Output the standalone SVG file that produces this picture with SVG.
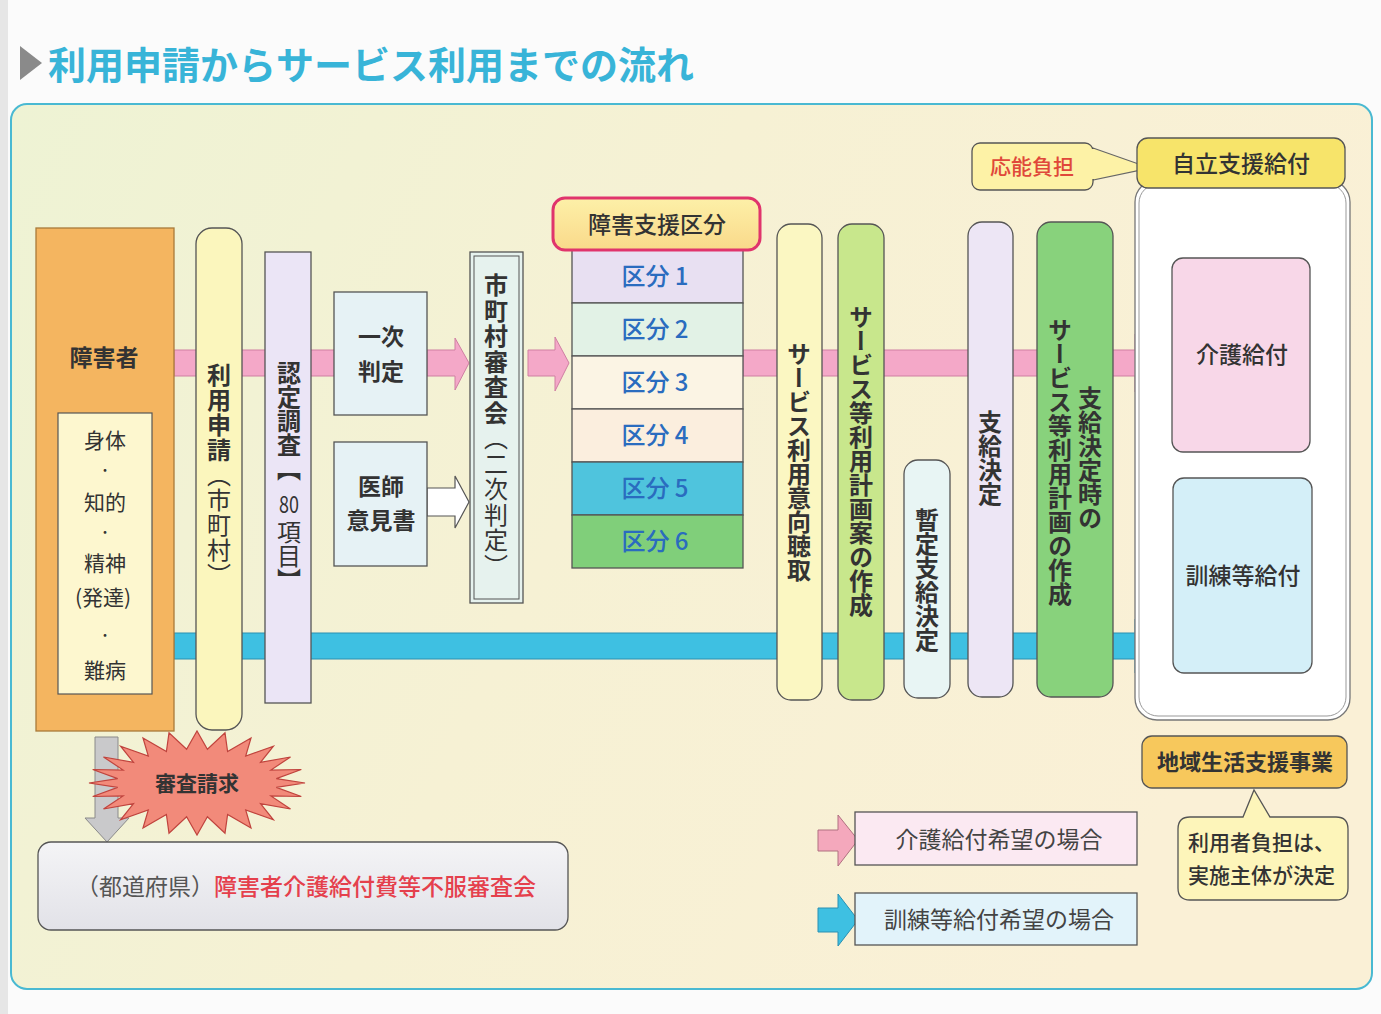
<svg xmlns="http://www.w3.org/2000/svg" width="1381" height="1014" viewBox="0 0 1381 1014">
<defs>
<linearGradient id="panel" x1="0" y1="0" x2="1" y2="0.3">
<stop offset="0" stop-color="#eef3d4"/>
<stop offset="0.5" stop-color="#f6f1d4"/>
<stop offset="1" stop-color="#faf0d6"/>
</linearGradient>
<linearGradient id="hdr" x1="0" y1="0" x2="0" y2="1">
<stop offset="0" stop-color="#fdf0a8"/>
<stop offset="1" stop-color="#f9d98a"/>
</linearGradient>
<linearGradient id="gray" x1="0" y1="0" x2="0" y2="1">
<stop offset="0" stop-color="#f4f4f6"/>
<stop offset="1" stop-color="#e2e2e8"/>
</linearGradient>
</defs>
<style>
text{font-family:"Noto Sans CJK JP","Noto Sans",sans-serif;fill:#333;}
.b{font-weight:bold;}
.m{text-anchor:middle;}
.v{writing-mode:vertical-rl;text-orientation:mixed;}
.box{stroke:#555;stroke-width:1.3;}
.pink{fill:#f4a8c8;stroke:#cf7fa2;stroke-width:1;}
.cyan{fill:#3ec0e2;stroke:#2a90b2;stroke-width:1;}
.blue{fill:#2a6cbf;font-size:24px;text-anchor:middle;font-weight:500;}
.dot{font-size:13px;text-anchor:middle;}
</style>
<rect width="1381" height="1014" fill="#fbfbfb"/>
<rect x="0" y="0" width="8" height="1014" fill="#e6e6e6"/>
<g id="title">
<polygon points="20,46 42,63 20,80" fill="#8a8a8a"/>
<text x="48" y="79" font-size="38" class="b" style="fill:#38b4d8">利用申請からサービス利用までの流れ</text>
</g>
<rect x="11" y="104" width="1361" height="885" rx="16" fill="url(#panel)" stroke="#49b9d2" stroke-width="2"/>

<g id="connectors">
<rect x="174" y="350" width="162" height="26" class="pink"/>
<rect x="174" y="633" width="962" height="26" class="cyan"/>
<polygon points="1135,633 1135,619 1172,646 1135,673 1135,659" class="cyan"/>
<polygon points="427,350 455,350 455,338 469,363 455,390 455,376 427,376" class="pink"/>
<polygon points="427,488 455,488 455,476 469,502 455,528 455,516 427,516" fill="#fff" stroke="#555" stroke-width="1.2"/>
<polygon points="528,350 555,350 555,337 569,363 555,391 555,376 528,376" class="pink"/>
<polygon points="743,350 1135,350 1135,334 1172,363 1135,392 1135,376 743,376" class="pink"/>
<polygon points="95,737 118,737 118,818 129,818 107,842 85,818 95,818" fill="#c9c9cb" stroke="#8a8a8a" stroke-width="1"/>
<polygon points="1093,148 1150,168 1093,180" fill="#fdf2a6" stroke="#666" stroke-width="1.2"/>
</g>

<g id="shogaisha">
<rect x="36" y="228" width="138" height="503" fill="#f4b560" stroke="#a97a3a" stroke-width="1.3"/>
<text x="104" y="366" font-size="23" class="b m">障害者</text>
<rect x="58" y="413" width="94" height="281" fill="#fdf7cf" stroke="#555" stroke-width="1.2"/>
<g font-size="21">
<text x="105" y="448" class="m">身体</text>
<text x="105" y="475" class="dot">・</text>
<text x="105" y="510" class="m">知的</text>
<text x="105" y="537" class="dot">・</text>
<text x="105" y="571" class="m">精神</text>
<text x="103" y="605" class="m">(発達)</text>
<text x="105" y="640" class="dot">・</text>
<text x="105" y="678" class="m">難病</text>
</g>
</g>

<g id="riyo-shinsei">
<rect x="196" y="228" width="46" height="502" rx="16" fill="#fbf6bd" class="box"/>
<text x="219" y="475" font-size="24" class="v m" letter-spacing="1"><tspan class="b">利用申請</tspan>（市町村）</text>
</g>

<g id="nintei">
<rect x="265" y="252" width="46" height="451" fill="#ebe5f6" class="box"/>
<text x="289" y="361" font-size="24" class="v b">認定調査【</text>
<text x="289" y="513" font-size="23" class="m" transform="translate(289,0) scale(0.78,1) translate(-289,0)">80</text>
<text x="289" y="520" font-size="24" class="v">項目】</text>
</g>

<g id="ichiji">
<rect x="334" y="292" width="93" height="123" fill="#e6f2f5" class="box"/>
<text x="381" y="345" font-size="23" class="b m">一次</text>
<text x="381" y="380" font-size="23" class="b m">判定</text>
</g>

<g id="ishi">
<rect x="334" y="442" width="93" height="124" fill="#e6f2f5" class="box"/>
<text x="381" y="495" font-size="23" class="b m">医師</text>
<text x="381" y="529" font-size="23" class="b m">意見書</text>
</g>

<g id="shinsakai">
<rect x="470" y="252" width="53" height="351" fill="#e6f2ee" class="box"/>
<rect x="474" y="256" width="45" height="343" fill="none" stroke="#555" stroke-width="1"/>
<text x="496" y="426" font-size="24" class="v m" letter-spacing="1.5"><tspan class="b">市町村審査会</tspan>（二次判定）</text>
</g>

<g id="kubun">
<rect x="572" y="250" width="171" height="53" fill="#e8e0f2" class="box"/>
<rect x="572" y="303" width="171" height="53" fill="#e2f2e6" class="box"/>
<rect x="572" y="356" width="171" height="53" fill="#fbf4e4" class="box"/>
<rect x="572" y="409" width="171" height="53" fill="#fbeede" class="box"/>
<rect x="572" y="462" width="171" height="53" fill="#4fc4dd" class="box"/>
<rect x="572" y="515" width="171" height="53" fill="#80cf7a" class="box"/>
<text x="655" y="285" class="blue">区分 1</text>
<text x="655" y="338" class="blue">区分 2</text>
<text x="655" y="391" class="blue">区分 3</text>
<text x="655" y="444" class="blue">区分 4</text>
<text x="655" y="497" class="blue">区分 5</text>
<text x="655" y="550" class="blue">区分 6</text>
<rect x="553" y="198" width="207" height="52" rx="12" fill="url(#hdr)" stroke="#e0346c" stroke-width="3"/>
<text x="657" y="233" font-size="23" class="m" style="font-weight:500">障害支援区分</text>
</g>

<g id="ikou">
<rect x="777" y="224" width="45" height="476" rx="14" fill="#fbf7c2" class="box"/>
<text x="799" y="462" font-size="24" class="v m b">サービス利用意向聴取</text>
</g>

<g id="keikakuan">
<rect x="838" y="224" width="46" height="476" rx="14" fill="#c8e78c" class="box"/>
<text x="861" y="461" font-size="24" class="v m b">サービス等利用計画案の作成</text>
</g>

<g id="zantei">
<rect x="904" y="460" width="46" height="238" rx="14" fill="#e8f5f4" class="box"/>
<text x="927" y="580" font-size="24" class="v m b">暫定支給決定</text>
</g>

<g id="shikyu">
<rect x="968" y="222" width="45" height="475" rx="14" fill="#ede6f5" class="box"/>
<text x="990" y="458" font-size="24" class="v m b">支給決定</text>
</g>

<g id="keikaku">
<rect x="1037" y="222" width="76" height="475" rx="14" fill="#88d27c" class="box"/>
<text x="1090" y="458" font-size="24" class="v m b">支給決定時の</text>
<text x="1060" y="462" font-size="24" class="v m b">サービス等利用計画の作成</text>
</g>

<g id="ouno">
<rect x="972" y="143" width="121" height="47" rx="8" fill="#fdf2a6" class="box"/>
<line x1="1093" y1="149" x2="1093" y2="179" stroke="#fdf2a6" stroke-width="2"/>
<text x="1032" y="174" font-size="21" class="m" style="fill:#e0483a;font-weight:500">応能負担</text>
</g>

<g id="jiritsu">
<rect x="1135" y="180" width="215" height="540" rx="22" fill="#ffffff" stroke="#777" stroke-width="1.3"/>
<rect x="1139" y="184" width="207" height="532" rx="19" fill="none" stroke="#999" stroke-width="1"/>
<rect x="1137" y="138" width="208" height="50" rx="11" fill="#f7e46a" class="box"/>
<text x="1241" y="172" font-size="23" class="m" style="font-weight:500">自立支援給付</text>
</g>

<g id="kaigo">
<rect x="1172" y="258" width="138" height="194" rx="11" fill="#f8d7e8" class="box"/>
<text x="1242" y="363" font-size="23" class="m" style="font-weight:500">介護給付</text>
</g>

<g id="kunren">
<rect x="1173" y="478" width="139" height="195" rx="11" fill="#d4eff8" class="box"/>
<text x="1243" y="584" font-size="23" class="m" style="font-weight:500">訓練等給付</text>
</g>

<g id="chiiki">
<rect x="1142" y="736" width="205" height="52" rx="10" fill="#f7c85c" class="box"/>
<text x="1245" y="770" font-size="22" class="m b">地域生活支援事業</text>
</g>

<g id="futan">
<path d="M1190,817 L1243,817 L1254,790 L1270,817 L1336,817 Q1348,817 1348,829 L1348,888 Q1348,900 1336,900 L1190,900 Q1178,900 1178,888 L1178,829 Q1178,817 1190,817 Z" fill="#fdf5ba" stroke="#555" stroke-width="1.3"/>
<text x="1188" y="850" font-size="21" style="font-weight:500">利用者負担は、</text>
<text x="1188" y="883" font-size="21" style="font-weight:500">実施主体が決定</text>
</g>

<g id="legend-kaigo">
<polygon points="818,830 838,830 838,815 858,840 838,866 838,851 818,851" fill="#f4a8bc" stroke="#b07080" stroke-width="1"/>
<rect x="855" y="812" width="282" height="53" fill="#fbe9f2" class="box"/>
<text x="999" y="848" font-size="23" class="m" style="fill:#444">介護給付希望の場合</text>
</g>

<g id="legend-kunren">
<polygon points="818,908 838,908 838,894 858,920 838,946 838,932 818,932" class="cyan"/>
<rect x="855" y="893" width="282" height="52" fill="#e2f3fa" class="box"/>
<text x="999" y="928" font-size="23" class="m" style="fill:#444">訓練等給付希望の場合</text>
</g>

<g id="shinsaseikyu">
<polygon points="305,783 276.3,787.4 301.3,796.5 270.9,796 290.5,809 260.5,803.7 273.4,819.8 245.7,810 251,828 227.6,814.4 225,833.2 207.4,816.7 197,835 186.6,816.7 169,833.2 166.4,814.4 143,828 148.3,810 120.6,819.8 133.5,803.7 103.5,809 123.1,796 92.7,796.5 117.7,787.4 89,783 117.7,778.6 92.7,769.5 123.1,770 103.5,757 133.5,762.3 120.6,746.2 148.3,756 143,738 166.4,751.6 169,732.8 186.6,749.3 197,731 207.4,749.3 225,732.8 227.6,751.6 251,738 245.7,756 273.4,746.2 260.5,762.3 290.5,757 270.9,770 301.3,769.5 276.3,778.6" fill="#f28a7a" stroke="#c0443e" stroke-width="1.2"/>
<text x="197" y="791" font-size="21" class="m b">審査請求</text>
</g>

<g id="fufuku">
<rect x="38" y="842" width="530" height="88" rx="13" fill="url(#gray)" class="box"/>
<text x="76" y="895" font-size="23"><tspan style="fill:#555">（都道府県）</tspan><tspan style="fill:#e5404c;font-weight:500">障害者介護給付費等不服審査会</tspan></text>
</g>
</svg>
